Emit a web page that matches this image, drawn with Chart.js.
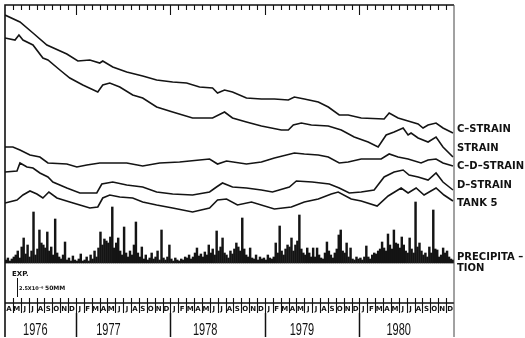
<!DOCTYPE html>
<html>
<head>
<meta charset="utf-8">
<script src="https://cdn.jsdelivr.net/npm/chart.js@4/dist/chart.umd.min.js"></script>
<style>
  html, body { margin: 0; padding: 0; background: #fff; }
</style>
</head>
<body>
<canvas id="strain-chart" width="525" height="338"></canvas>
<script>
// x is counted in months from the start of April 1976, y values are relative units
const monthLetters = ['A','M','J','J','A','S','O','N','D',
  'J','F','M','A','M','J','J','A','S','O','N','D',
  'J','F','M','A','M','J','J','A','S','O','N','D',
  'J','F','M','A','M','J','J','A','S','O','N','D',
  'J','F','M','A','M','J','J','A','S','O','N','D'];
const yearLabels = ['1976', '1977', '1978', '1979', '1980'];
const yearStarts = [0, 9, 21, 33, 45];

const cStrainMonths = [0, 1.9, 3.55, 5.32, 7.85, 9.25, 10.77, 12.03, 12.41, 13.68, 15.45, 17.48, 19.25, 21.28, 23.05, 24.7, 26.35, 26.98, 27.87, 28.88, 30.65, 32.55, 34.2, 35.97, 36.73, 38.0, 39.77, 41.04, 42.43, 43.57, 45.22, 48.13, 48.77, 49.9, 51.17, 52.44, 53.07, 53.71, 54.72, 55.6, 56.87];
const cStrainValues = [287, 280, 269, 257, 248, 241, 242, 239, 241, 235, 230, 226, 222, 220, 219, 215, 214, 209, 212, 210, 204, 203, 203, 202, 205, 203, 200, 195, 187, 187, 184, 183, 189, 184, 181, 178, 174, 177, 179, 174, 169];

const strainMonths = [0, 1.27, 1.77, 2.28, 3.55, 4.81, 5.45, 6.97, 8.23, 9.88, 11.78, 12.41, 13.3, 14.57, 16.21, 17.48, 19.25, 21.28, 23.81, 26.35, 27.87, 28.88, 30.65, 32.55, 35.08, 35.97, 36.6, 37.62, 38.89, 41.04, 42.69, 44.33, 46.1, 47.37, 48.39, 49.4, 50.54, 51.17, 51.55, 52.44, 53.71, 54.72, 55.6, 56.87];
const strainValues = [264, 262, 267, 262, 257, 244, 242, 232, 224, 217, 210, 217, 219, 215, 207, 204, 195, 190, 184, 184, 190, 184, 180, 176, 172, 172, 177, 179, 177, 176, 172, 165, 160, 155, 167, 170, 174, 167, 169, 164, 160, 165, 155, 145];

const cdStrainMonths = [0, 1.0, 1.9, 3.17, 4.43, 5.45, 7.85, 9.12, 10.39, 12.03, 13.68, 15.45, 17.48, 19.63, 22.17, 24.7, 25.97, 26.98, 28.12, 30.65, 32.55, 34.2, 36.73, 38.0, 39.77, 41.04, 42.43, 43.57, 45.22, 47.75, 48.77, 49.9, 51.17, 52.82, 53.71, 54.72, 55.6, 56.87];
const cdStrainValues = [155, 155, 152, 147, 145, 139, 138, 135, 137, 139, 139, 139, 136, 139, 140, 142, 143, 138, 141, 138, 140, 144, 149, 148, 147, 145, 139, 140, 143, 143, 148, 145, 143, 139, 142, 143, 139, 136];

const dStrainMonths = [0, 1.52, 1.9, 2.79, 3.55, 4.43, 5.45, 6.08, 7.85, 9.5, 11.65, 12.29, 13.68, 15.45, 17.48, 19.25, 21.28, 23.81, 25.97, 26.85, 27.61, 28.88, 30.65, 32.55, 33.95, 36.1, 36.99, 39.0, 41.17, 42.43, 43.7, 45.22, 46.86, 48.13, 49.4, 50.54, 51.3, 52.44, 53.71, 54.72, 55.6, 56.87];
const dStrainValues = [130, 131, 139, 135, 134, 129, 125, 120, 114, 109, 109, 118, 120, 117, 115, 110, 108, 107, 110, 115, 119, 115, 114, 112, 110, 115, 121, 120, 118, 114, 109, 110, 112, 125, 130, 132, 127, 125, 122, 129, 120, 112];

const tankMonths = [0, 1.52, 2.28, 3.17, 4.05, 4.81, 5.57, 6.59, 8.23, 9.5, 10.77, 11.78, 12.41, 13.3, 14.57, 16.21, 17.48, 19.25, 21.28, 23.81, 25.97, 26.98, 28.12, 29.51, 31.29, 34.2, 36.35, 38.0, 39.77, 41.42, 42.3, 43.95, 45.22, 47.24, 48.64, 50.29, 51.17, 52.19, 53.2, 54.72, 55.73, 56.87];
const tankValues = [99, 102, 107, 111, 108, 104, 110, 104, 100, 97, 94, 95, 104, 107, 105, 104, 100, 97, 94, 90, 94, 102, 103, 97, 100, 93, 95, 100, 103, 108, 110, 103, 101, 96, 106, 114, 109, 114, 107, 114, 107, 101];

// precipitation, one reading every quarter month
const precipValues = [
  3, 5, 2, 4, 6, 8, 12, 5, 16, 25, 9, 18,
  6, 12, 51, 8, 14, 33, 20, 18, 15, 31, 12, 16,
  8, 44, 10, 6, 4, 8, 21, 3, 5, 2, 7, 3,
  2, 4, 9, 2, 3, 6, 2, 8, 4, 12, 6, 15,
  31, 18, 24, 22, 20, 26, 56, 15, 20, 25, 12, 8,
  36, 10, 6, 12, 8, 18, 41, 10, 6, 16, 4, 8,
  3, 5, 10, 4, 6, 12, 3, 33, 5, 3, 6, 18,
  4, 2, 5, 3, 2, 4, 3, 6, 5, 8, 4, 6,
  10, 15, 7, 9, 6, 11, 8, 18, 10, 14, 8, 32,
  12, 16, 25, 10, 8, 5, 12, 9, 14, 20, 16, 12,
  45, 14, 8, 6, 15, 5, 4, 8, 3, 6, 4, 5,
  3, 8, 5, 4, 6, 20, 10, 37, 12, 8, 14, 18,
  16, 25, 12, 18, 22, 48, 14, 10, 8, 15, 10, 6,
  15, 6, 15, 8, 5, 4, 10, 21, 12, 8, 5, 10,
  14, 28, 33, 12, 10, 20, 6, 15, 4, 3, 6, 4,
  5, 3, 6, 17, 6, 4, 8, 10, 9, 12, 14, 21,
  15, 12, 29, 18, 14, 33, 20, 19, 15, 26, 18, 12,
  10, 25, 14, 10, 61, 16, 20, 12, 8, 10, 6, 16,
  10, 53, 14, 13, 6, 8, 15, 10, 12, 6, 4, 3
];

function toPoints(months, values) {
  let pts = [];
  for (let i = 0; i < months.length; i++) {
    pts.push({x: months[i], y: values[i]});
  }
  return pts;
}

function lineSet(label, months, values) {
  return {
    type: 'line',
    label: label,
    data: toPoints(months, values),
    borderColor: '#141414',
    borderWidth: 1.6,
    pointRadius: 0,
    tension: 0,
    fill: false,
    yAxisID: 'y'
  };
}

let precipPoints = [];
for (let i = 0; i < precipValues.length; i++) {
  precipPoints.push({x: i * 0.25 + 0.12, y: precipValues[i]});
}

const labelFont = "bold 10px 'DejaVu Sans', sans-serif";

const framePlugin = {
  id: 'frame',
  afterDatasetsDraw(chart) {
    const ctx = chart.ctx;
    const xs = chart.scales.x;
    const area = chart.chartArea;
    const L = area.left, R = area.right, T = area.top, B = area.bottom;
    const bottomEdge = 337;
    ctx.save();
    ctx.strokeStyle = '#111';
    ctx.fillStyle = '#111';

    // frame
    ctx.lineWidth = 1.6;
    ctx.beginPath();
    ctx.moveTo(L, bottomEdge);
    ctx.lineTo(L, T);
    ctx.lineTo(R, T);
    ctx.moveTo(L, B);
    ctx.lineTo(R, B);
    ctx.stroke();
    ctx.lineWidth = 1;
    ctx.strokeStyle = '#444';
    ctx.beginPath();
    ctx.moveTo(R, T);
    ctx.lineTo(R, bottomEdge);
    ctx.stroke();
    ctx.strokeStyle = '#111';

    // month ticks on top and month strip
    ctx.lineWidth = 1.1;
    for (let m = 1; m < monthLetters.length; m++) {
      const px = Math.round(xs.getPixelForValue(m)) + 0.5;
      const isYear = yearStarts.indexOf(m) >= 0;
      ctx.beginPath();
      ctx.moveTo(px, T);
      ctx.lineTo(px, T + (isYear ? 10 : 5));
      ctx.moveTo(px, B - 5);
      ctx.lineTo(px, B + 10);
      ctx.stroke();
    }
    ctx.font = "bold 7px 'DejaVu Sans', sans-serif";
    ctx.textAlign = 'center';
    ctx.textBaseline = 'middle';
    for (let m = 0; m < monthLetters.length; m++) {
      ctx.fillText(monthLetters[m], xs.getPixelForValue(m + 0.5), B + 6);
    }

    // year separators and labels
    ctx.lineWidth = 1.5;
    for (let k = 1; k < yearStarts.length; k++) {
      const px = Math.round(xs.getPixelForValue(yearStarts[k])) + 0.5;
      ctx.beginPath();
      ctx.moveTo(px, B + 10);
      ctx.lineTo(px, bottomEdge);
      ctx.stroke();
    }
    ctx.font = "11px 'Liberation Sans', sans-serif";
    ctx.textAlign = 'left';
    ctx.textBaseline = 'alphabetic';
    for (let k = 0; k < yearLabels.length; k++) {
      const px = xs.getPixelForValue(yearStarts[k] + 2.3 + 0.28 * k);
      ctx.save();
      ctx.translate(px, 335);
      ctx.scale(1, 1.5);
      ctx.fillText(yearLabels[k], 0, 0);
      ctx.restore();
    }

    // exaggeration scale
    ctx.font = "bold 7px 'DejaVu Sans', sans-serif";
    ctx.fillText('EXP.', 12, 276);
    ctx.lineWidth = 1;
    ctx.beginPath();
    ctx.moveTo(17.5, 278);
    ctx.lineTo(17.5, 297);
    ctx.stroke();
    ctx.font = "bold 5px 'DejaVu Sans', sans-serif";
    ctx.fillText('2.5X10\u207B\u2076', 19, 290);
    ctx.font = "bold 6px 'DejaVu Sans', sans-serif";
    ctx.fillText('50MM', 45, 290);

    // series names on the right
    ctx.font = labelFont;
    ctx.textBaseline = 'middle';
    const names = [['C\u2013STRAIN', 129], ['STRAIN', 148], ['C\u2013D\u2013STRAIN', 166],
      ['D\u2013STRAIN', 185], ['TANK 5', 203], ['PRECIPITA \u2013', 257], ['TION', 268]];
    for (let n of names) {
      ctx.fillText(n[0], R + 3, n[1]);
    }
    ctx.restore();
  }
};

const config = {
  type: 'line',
  data: {
    datasets: [
      lineSet('C-STRAIN', cStrainMonths, cStrainValues),
      lineSet('STRAIN', strainMonths, strainValues),
      lineSet('C-D-STRAIN', cdStrainMonths, cdStrainValues),
      lineSet('D-STRAIN', dStrainMonths, dStrainValues),
      lineSet('TANK 5', tankMonths, tankValues),
      {
        type: 'bar',
        label: 'PRECIPITATION',
        data: precipPoints,
        backgroundColor: '#141414',
        borderWidth: 0,
        barThickness: 1.8,
        yAxisID: 'yP'
      }
    ]
  },
  options: {
    responsive: false,
    animation: false,
    devicePixelRatio: 1,
    layout: { padding: { left: 5, right: 71, top: 5, bottom: 35 } },
    plugins: { legend: { display: false }, tooltip: { enabled: false } },
    scales: {
      x: { type: 'linear', min: 0, max: 57, offset: false, display: false },
      y: { min: -1, max: 297, display: false },
      yP: { min: -40, max: 258, display: false }
    }
  },
  plugins: [framePlugin]
};

let ctx = document.getElementById('strain-chart').getContext('2d');
window.strainChart = new Chart(ctx, config);
</script>
</body>
</html>
